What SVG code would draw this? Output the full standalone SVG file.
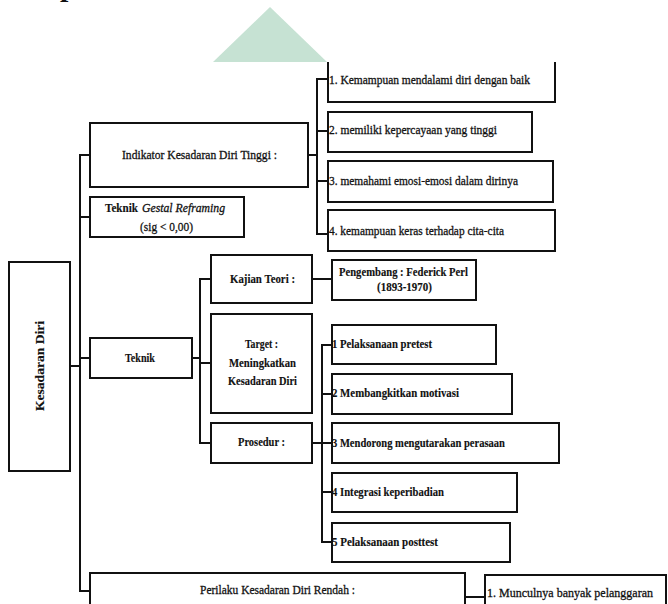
<svg xmlns="http://www.w3.org/2000/svg" width="668" height="604" viewBox="0 0 668 604">
<style>
.b{fill:#fff;stroke:#111;stroke-width:2}
.c{fill:none;stroke:#111;stroke-width:2}
text{font-family:"Liberation Serif","Times New Roman",serif;font-size:13px;fill:#111;stroke:#111;stroke-width:0.3}
.bd{font-weight:bold;stroke-width:0.15}
.m{text-anchor:middle}
</style>
<rect width="668" height="604" fill="#fff"/>
<text x="60" y="-4.5" style="font-size:30px;font-weight:bold;stroke:none">p</text>
<polygon points="270,7 327,62 213,62" fill="#c6e2d3"/>
<g id="connectors" class="c">
<path d="M90,155 H80 V591 H90"/>
<path d="M80,217 H90"/>
<path d="M70,366 H80"/>
<path d="M80,358 H90"/>
<path d="M308,155 H317"/>
<path d="M328,79 H317 V234 H328"/>
<path d="M317,131 H328"/>
<path d="M317,181 H328"/>
<path d="M192,358 H200"/>
<path d="M211,279 H200 V443 H211"/>
<path d="M200,363 H211"/>
<path d="M312,279 H332"/>
<path d="M312,443 H332"/>
<path d="M332,345 H322 V542 H332"/>
<path d="M322,394 H332"/>
<path d="M322,492 H332"/>
<path d="M465,597 H485"/>
</g>
<g id="kesadaran-diri"><rect class="b" x="9" y="262" width="61" height="209"/><text class="bd m" transform="translate(44,366) rotate(-90)" textLength="90" lengthAdjust="spacingAndGlyphs">Kesadaran Diri</text></g>
<g id="indikator"><rect class="b" x="90" y="123" width="218" height="64"/><text x="122" y="159" textLength="155" lengthAdjust="spacingAndGlyphs">Indikator Kesadaran Diri Tinggi :</text></g>
<g id="ind-1"><path class="b" d="M328,62 V102 H555 V62"/><text x="329" y="84" textLength="201" lengthAdjust="spacingAndGlyphs">1. Kemampuan mendalami diri dengan baik</text></g>
<g id="ind-2"><rect class="b" x="328" y="112" width="204" height="40"/><text x="329" y="134" textLength="168" lengthAdjust="spacingAndGlyphs">2. memiliki  kepercayaan yang tinggi</text></g>
<g id="ind-3"><rect class="b" x="328" y="161" width="225" height="41"/><text x="329" y="185" textLength="189" lengthAdjust="spacingAndGlyphs">3. memahami emosi-emosi dalam dirinya</text></g>
<g id="ind-4"><rect class="b" x="328" y="210" width="227" height="41"/><text x="329" y="235" textLength="175" lengthAdjust="spacingAndGlyphs">4. kemampuan keras terhadap cita-cita</text></g>
<g id="gestal"><rect class="b" x="90" y="197" width="154" height="40"/><text class="bd" x="105" y="212" textLength="33" lengthAdjust="spacingAndGlyphs">Teknik</text><text x="142" y="212" font-style="italic" textLength="83" lengthAdjust="spacingAndGlyphs">Gestal Reframing</text><text x="140" y="231" textLength="53" lengthAdjust="spacingAndGlyphs">(sig &lt; 0,00)</text></g>
<g id="teknik"><rect class="b" x="90" y="338" width="102" height="40"/><text class="bd" x="125" y="362" textLength="30" lengthAdjust="spacingAndGlyphs">Teknik</text></g>
<g id="kajian"><rect class="b" x="211" y="255" width="101" height="48"/><text class="bd" x="230" y="283" textLength="65" lengthAdjust="spacingAndGlyphs">Kajian Teori :</text></g>
<g id="target"><rect class="b" x="211" y="314" width="101" height="99"/><text class="bd" x="245" y="348" textLength="33" lengthAdjust="spacingAndGlyphs">Target :</text><text class="bd" x="229" y="367" textLength="67" lengthAdjust="spacingAndGlyphs">Meningkatkan</text><text class="bd" x="228" y="385" textLength="69" lengthAdjust="spacingAndGlyphs">Kesadaran Diri</text></g>
<g id="prosedur"><rect class="b" x="211" y="423" width="101" height="40"/><text class="bd" x="238" y="446" textLength="47" lengthAdjust="spacingAndGlyphs">Prosedur :</text></g>
<g id="pengembang"><rect class="b" x="332" y="260" width="144" height="40"/><text class="bd" x="339" y="276" textLength="129" lengthAdjust="spacingAndGlyphs">Pengembang : Federick Perl</text><text class="bd" x="377" y="291" textLength="55" lengthAdjust="spacingAndGlyphs">(1893-1970)</text></g>
<g id="pro-1"><rect class="b" x="332" y="325" width="164" height="39"/><text class="bd" x="332" y="348" textLength="100" lengthAdjust="spacingAndGlyphs">1 Pelaksanaan pretest</text></g>
<g id="pro-2"><rect class="b" x="332" y="374" width="180" height="40"/><text class="bd" x="332" y="397" textLength="127" lengthAdjust="spacingAndGlyphs">2 Membangkitkan motivasi</text></g>
<g id="pro-3"><rect class="b" x="332" y="423" width="227" height="40"/><text class="bd" x="332" y="447" textLength="173" lengthAdjust="spacingAndGlyphs">3 Mendorong mengutarakan perasaan</text></g>
<g id="pro-4"><rect class="b" x="332" y="473" width="185" height="39"/><text class="bd" x="332" y="496" textLength="112" lengthAdjust="spacingAndGlyphs">4 Integrasi keperibadian</text></g>
<g id="pro-5"><rect class="b" x="332" y="523" width="178" height="39"/><text class="bd" x="332" y="546" textLength="106" lengthAdjust="spacingAndGlyphs">5 Pelaksanaan posttest</text></g>
<g id="perilaku"><rect class="b" x="90" y="573" width="375" height="40"/><text x="200" y="594" textLength="155" lengthAdjust="spacingAndGlyphs">Perilaku Kesadaran Diri Rendah :</text></g>
<g id="rendah-1"><rect class="b" x="485" y="575" width="181" height="40"/><text x="487" y="597" textLength="166" lengthAdjust="spacingAndGlyphs">1. Munculnya banyak pelanggaran</text></g>
</svg>
